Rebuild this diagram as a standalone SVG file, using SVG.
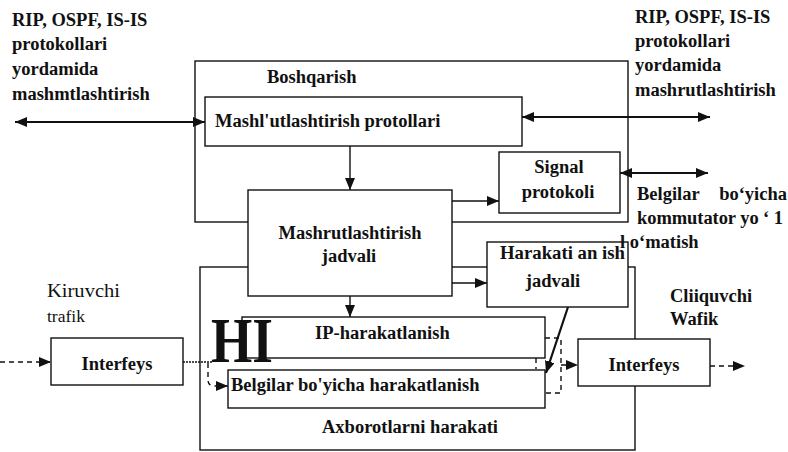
<svg xmlns="http://www.w3.org/2000/svg" width="788" height="452" viewBox="0 0 788 452">
<style>
text{font-family:"Liberation Serif","Times New Roman",serif;font-size:18.5px;font-weight:bold;fill:#111}
.reg{font-weight:normal}
.mid{text-anchor:middle}
.box{fill:#fff;stroke:#111;stroke-width:1.4}
.frame{fill:none;stroke:#111;stroke-width:1.4}
.ln{fill:none;stroke:#111;stroke-width:1.4}
.thick{stroke-width:2.2}
.dash{stroke-dasharray:5 4}
</style>
<defs>
<marker id="ah" markerUnits="userSpaceOnUse" markerWidth="12" markerHeight="10" refX="12" refY="5" orient="auto-start-reverse">
<path d="M0,0 L12,5 L0,10 z" fill="#111"/>
</marker>
</defs>
<rect width="788" height="452" fill="#fff"/>

<g id="boshqarish">
<rect class="frame" x="195" y="61" width="433" height="161"/>
<text x="267" y="83">Boshqarish</text>
</g>
<g id="axborotlarni">
<rect class="frame" x="200" y="267" width="435" height="183"/>
<text x="322" y="433">Axborotlarni harakati</text>
</g>

<g id="connectors">
<path class="ln thick" d="M15,122 H205" marker-start="url(#ah)" marker-end="url(#ah)"/>
<path class="ln thick" d="M522,117 H710" marker-start="url(#ah)" marker-end="url(#ah)"/>
<path class="ln thick" d="M620,173 H708" marker-start="url(#ah)" marker-end="url(#ah)"/>
<path class="ln" d="M350,146 V190" marker-end="url(#ah)"/>
<path class="ln" d="M452,201 H499" marker-end="url(#ah)"/>
<path class="ln" d="M452,283 H487" marker-end="url(#ah)"/>
<path class="ln" d="M350,296 V317" marker-end="url(#ah)"/>
<path class="ln dash" d="M0,362 H51" marker-end="url(#ah)"/>
<path class="ln" d="M183,362 H212" stroke-dasharray="2 1"/>
<path class="ln dash" d="M208,363 V380 Q208,386 214,386 H228" marker-end="url(#ah)"/>
<path class="ln thick" d="M568,307 L546,373" marker-end="url(#ah)"/>
<path class="ln dash" d="M545,338 H561 V393 H545"/>
<path class="ln dash" d="M536,358 V369"/>
<path class="ln dash" d="M561,365 H578" marker-end="url(#ah)"/>
<path class="ln dash" d="M710,366 H745" marker-end="url(#ah)"/>
</g>

<g id="mashl">
<rect class="box" x="205" y="97" width="317" height="49"/>
<text x="215" y="127">Mashl'utlashtirish protollari</text>
</g>
<g id="mashrut">
<rect class="box" x="248" y="190" width="204" height="106"/>
<text class="mid" x="350" y="239">Mashrutlashtirish</text>
<text class="mid" x="349" y="262">jadvali</text>
</g>
<g id="signal">
<rect class="box" x="499" y="152" width="121" height="61"/>
<text class="mid" x="559" y="173">Signal</text>
<text class="mid" x="558" y="198">protokoli</text>
</g>
<g id="harakati">
<rect class="box" x="487" y="242" width="141" height="65"/>
<text x="500" y="259" textLength="125" lengthAdjust="spacingAndGlyphs">Harakati an ish</text>
<text class="mid" x="553" y="287">jadvali</text>
</g>
<g id="ip">
<rect class="box" x="242" y="317" width="303" height="41"/>
<text x="315" y="339">IP-harakatlanish</text>
</g>
<g id="belgilar">
<rect class="box" x="228" y="370" width="317" height="38"/>
<text x="231" y="391">Belgilar bo'yicha harakatlanish</text>
</g>
<g id="interfeys-in">
<rect class="box" x="51" y="338" width="132" height="47"/>
<text class="mid" x="117" y="370">Interfeys</text>
</g>
<g id="interfeys-out">
<rect class="box" x="578" y="339" width="132" height="47"/>
<text class="mid" x="644" y="371">Interfeys</text>
</g>
<g id="hi">
<text x="211" y="362" style="font-size:63px" textLength="62" lengthAdjust="spacingAndGlyphs">HI</text>
</g>

<g id="labels">
<text x="12" y="26">RIP, OSPF, IS-IS</text>
<text x="12" y="50">protokollari</text>
<text x="12" y="75">yordamida</text>
<text x="12" y="100">mashmtlashtirish</text>
<text x="635" y="23">RIP, OSPF, IS-IS</text>
<text x="635" y="47">protokollari</text>
<text x="635" y="71">yordamida</text>
<text x="635" y="96">mashrutlashtirish</text>
<text x="637" y="200">Belgilar</text>
<text x="787" y="200" style="text-anchor:end">bo‘yicha</text>
<text x="637" y="224" textLength="146" lengthAdjust="spacing">kommutator yo ‘ 1</text>
<text x="620" y="248">l o‘matish</text>
<text x="670" y="302">Cliiquvchi</text>
<text x="670" y="325">Wafik</text>
<text class="reg" x="47" y="297" textLength="73" lengthAdjust="spacingAndGlyphs">Kiruvchi</text>
<text class="reg" x="47" y="322" style="font-size:17.5px">trafik</text>
</g>
</svg>
